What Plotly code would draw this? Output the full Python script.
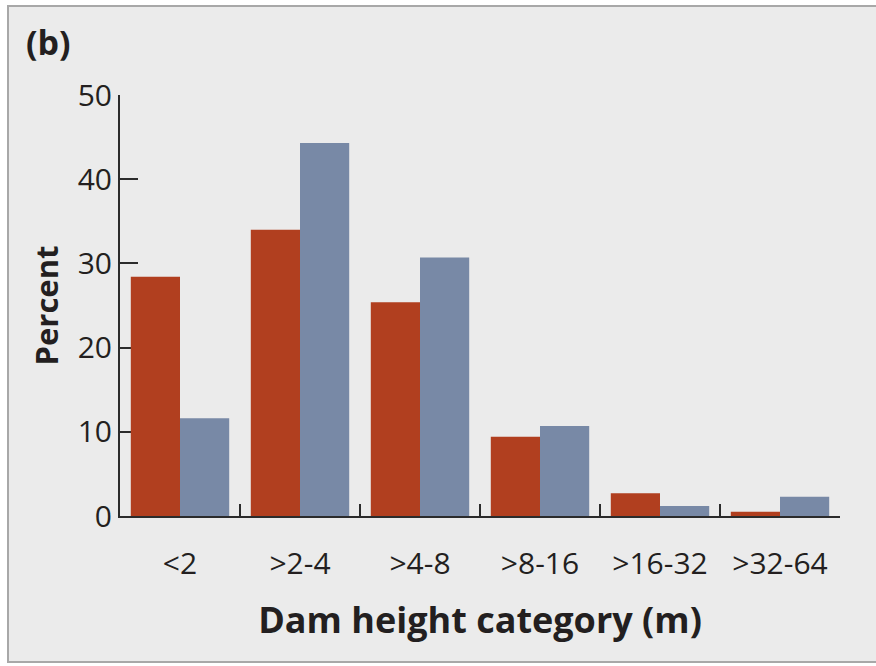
import plotly.graph_objects as go

# Dam height categories and the share of dams in each (two series)
categories = ["<2", ">2-4", ">4-8", ">8-16", ">16-32", ">32-64"]
series_a = [28.4, 34.0, 25.4, 9.4, 2.7, 0.5]
series_b = [11.6, 44.3, 30.7, 10.7, 1.2, 2.3]
y_ticks = [0, 10, 20, 30, 40, 50]

RED = "#b13f1f"
BLUE = "#7889a6"
INK = "#231f20"
FONT = "Open Sans"

fig = go.Figure()
fig.add_trace(go.Bar(x=categories, y=series_a, marker=dict(color=RED, line=dict(width=0)),
                     showlegend=False))
fig.add_trace(go.Bar(x=categories, y=series_b, marker=dict(color=BLUE, line=dict(width=0)),
                     showlegend=False))

W, H = 876, 666
L, R, T, B = 120, 36, 95, 150
pw, ph = W - L - R, H - T - B


def px_to_paper_x(px):
    return (px - L) / pw


def px_to_paper_y(py):
    return (H - B - py) / ph


fig.update_layout(
    width=W, height=H,
    margin=dict(l=L, r=R, t=T, b=B),
    paper_bgcolor="white",
    plot_bgcolor="rgba(0,0,0,0)",
    barmode="group",
    bargap=0.18,
    bargroupgap=0,
    font=dict(family=FONT, color=INK),
    xaxis=dict(
        type="category",
        range=[-0.5, 5.5],
        showline=True, linecolor="#2b2b2b", linewidth=2,
        ticks="inside", tickson="boundaries", ticklen=12, tickwidth=2, tickcolor="#2b2b2b",
        tickfont=dict(size=30, family=FONT, color=INK),
        ticklabelstandoff=20,
        showgrid=False, zeroline=False,
        layer="below traces",
        title=dict(text="<b>Dam height category (m)</b>",
                   font=dict(size=36, family=FONT, color=INK), standoff=26),
    ),
    yaxis=dict(
        range=[0, 50],
        tickvals=y_ticks,
        showline=True, linecolor="#2b2b2b", linewidth=2,
        ticks="inside", ticklen=18, tickwidth=2, tickcolor="#2b2b2b",
        tickfont=dict(size=30, family=FONT, color=INK),
        showgrid=False, zeroline=False,
        layer="below traces",
        title=dict(text="<b>Percent</b>",
                   font=dict(size=31, family=FONT, color=INK), standoff=10),
    ),
    shapes=[dict(
        type="rect", xref="paper", yref="paper", layer="below",
        x0=px_to_paper_x(8), x1=px_to_paper_x(1000),
        y0=px_to_paper_y(662), y1=px_to_paper_y(6),
        fillcolor="#ebebeb", line=dict(color="#a8a8a8", width=2),
    )],
    annotations=[dict(
        text="<b>(b)</b>", xref="paper", yref="paper",
        x=px_to_paper_x(24), y=px_to_paper_y(42),
        xanchor="left", yanchor="middle", showarrow=False,
        font=dict(size=34, family=FONT, color=INK),
    )],
)

fig.write_html("out.html")
